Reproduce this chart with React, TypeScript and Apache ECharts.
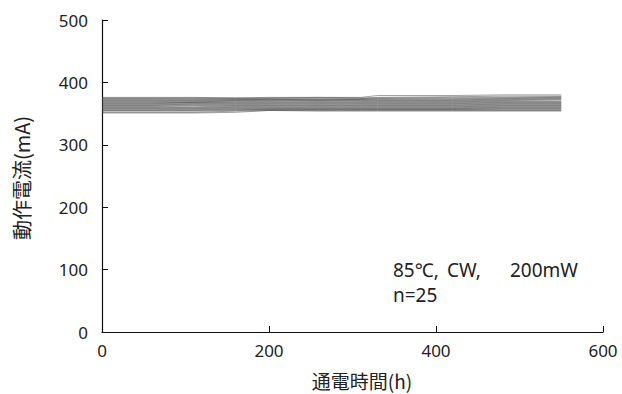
import React, { useEffect, useRef } from "react";
import * as echarts from "echarts";

const hours = [0, 60, 110, 160, 200, 260, 310, 330, 420, 480, 550];
const s01 = [376, 376, 376, 375, 376, 376, 376, 379, 379, 380, 380];
const s02 = [375, 375, 375, 375, 375, 376, 375, 376, 377, 378, 378];
const s03 = [374, 374, 374, 374, 374, 374, 374, 375, 376, 376, 377];
const s04 = [373, 373, 373, 373, 373, 372, 373, 374, 374, 375, 376];
const s05 = [372, 372, 372, 372, 373, 373, 373, 373, 373, 374, 375];
const s06 = [371, 371, 371, 372, 372, 371, 372, 372, 372, 373, 374];
const s07 = [370, 370, 370, 371, 371, 372, 371, 371, 371, 372, 373];
const s08 = [369, 369, 369, 370, 370, 370, 370, 370, 370, 371, 372];
const s09 = [368, 368, 368, 369, 369, 368, 369, 369, 369, 370, 370];
const s10 = [367, 367, 368, 368, 368, 369, 368, 368, 368, 369, 369];
const s11 = [366, 366, 367, 367, 367, 367, 367, 367, 367, 368, 368];
const s12 = [365, 365, 366, 366, 366, 365, 366, 366, 366, 367, 367];
const s13 = [364, 364, 365, 365, 365, 366, 365, 365, 365, 366, 366];
const s14 = [363, 363, 364, 364, 364, 364, 364, 364, 364, 365, 365];
const s15 = [362, 362, 363, 363, 363, 362, 363, 363, 363, 364, 364];
const s16 = [361, 361, 361, 362, 362, 363, 362, 362, 362, 363, 363];
const s17 = [360, 360, 360, 361, 361, 361, 361, 361, 361, 362, 362];
const s18 = [359, 359, 359, 360, 360, 360, 360, 360, 360, 361, 361];
const s19 = [358, 358, 358, 359, 359, 359, 359, 359, 359, 360, 360];
const s20 = [357, 357, 357, 358, 358, 358, 358, 358, 358, 359, 359];
const s21 = [356, 356, 356, 357, 357, 357, 357, 357, 357, 358, 358];
const s22 = [355, 355, 355, 356, 357, 357, 357, 357, 357, 357, 357];
const s23 = [354, 354, 354, 355, 356, 356, 356, 356, 356, 356, 356];
const s24 = [352, 352, 352, 354, 355, 355, 355, 355, 355, 355, 355];
const s25 = [351, 351, 351, 352, 355, 354, 354, 354, 354, 354, 354];
const allSeries = [s01, s02, s03, s04, s05, s06, s07, s08, s09, s10, s11, s12, s13, s14, s15, s16, s17, s18, s19, s20, s21, s22, s23, s24, s25];

const xTicks = [0, 200, 400, 600];
const yTicks = [0, 100, 200, 300, 400, 500];
const xTitle = "通電時間(h)";
const yTitle = "動作電流(mA)";
const notePart1 = "85℃,";
const notePart2 = "CW,";
const notePart3 = "200mW";
const noteLine2 = "n=25";

const FONT = "'Noto Sans', 'Noto Sans CJK JP', sans-serif";
const CJK = "'Noto Sans CJK JP', sans-serif";

export default function App() {
  const ref = useRef<HTMLDivElement>(null);
  useEffect(() => {
    if (!ref.current) return;
    const chart = echarts.init(ref.current, null, { renderer: "svg" });
    const noteStyle = { fontSize: 19, fontFamily: FONT, fill: "#222", verticalAlign: "middle" };
    chart.setOption({
      animation: false,
      backgroundColor: "#ffffff",
      grid: { left: 102, right: 19, top: 20, bottom: 62 },
      xAxis: {
        type: "value",
        min: 0,
        max: 600,
        interval: 200,
        axisLine: { show: true, lineStyle: { color: "#111", width: 1.2 } },
        axisTick: { show: true, inside: true, length: 6, lineStyle: { color: "#111" } },
        axisLabel: {
          color: "#222",
          fontSize: 17,
          fontFamily: FONT,
          margin: 10,
          formatter: (v: number) => (xTicks.includes(v) ? String(v) : ""),
        },
        splitLine: { show: false },
      },
      yAxis: {
        type: "value",
        min: 0,
        max: 500,
        interval: 100,
        axisLine: { show: true, lineStyle: { color: "#111", width: 1.2 } },
        axisTick: { show: true, inside: true, length: 6, lineStyle: { color: "#111" } },
        axisLabel: {
          color: "#222",
          fontSize: 17,
          fontFamily: FONT,
          margin: 14,
          formatter: (v: number) => (yTicks.includes(v) ? String(v) : ""),
        },
        splitLine: { show: false },
      },
      graphic: [
        {
          type: "text",
          x: 362,
          y: 380,
          style: { text: xTitle, fontSize: 19, fontFamily: CJK, fill: "#222", align: "center", verticalAlign: "middle" },
        },
        {
          type: "text",
          x: 21,
          y: 178,
          rotation: Math.PI / 2,
          style: {
            text: yTitle,
            fontSize: 20,
            fontFamily: CJK,
            fill: "#222",
            align: "center",
            verticalAlign: "middle",
          },
        },
        { type: "text", x: 393, y: 270, style: { ...noteStyle, text: notePart1 } },
        { type: "text", x: 447, y: 270, style: { ...noteStyle, text: notePart2 } },
        { type: "text", x: 510, y: 270, style: { ...noteStyle, text: notePart3 } },
        { type: "text", x: 393, y: 295, style: { ...noteStyle, text: noteLine2 } },
      ],
      series: allSeries.map((vals, i) => ({
        type: "line",
        name: "s" + (i + 1),
        data: hours.map((h, j) => [h, vals[j]]),
        showSymbol: false,
        symbol: "none",
        lineStyle: { color: "#444", width: 0.5 },
        silent: true,
      })),
    });
    return () => chart.dispose();
  }, []);
  return (
    <div
      ref={ref}
      style={{ position: "fixed", left: 0, top: 0, width: 622, height: 394 }}
    />
  );
}
